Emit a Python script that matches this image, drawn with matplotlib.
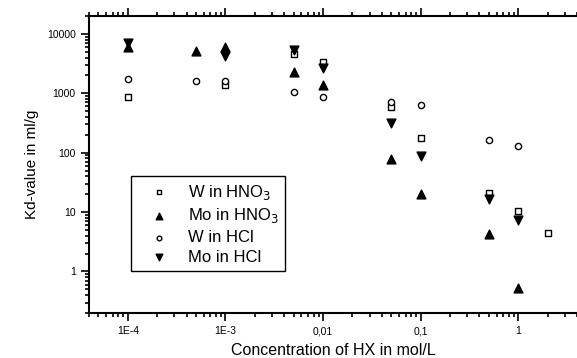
import matplotlib
matplotlib.use("Agg")
import matplotlib.pyplot as plt
from matplotlib.ticker import FixedLocator, LogLocator, NullFormatter

plt.rcParams['font.family'] = ['Liberation Sans', 'DejaVu Sans']

# Data
w_hno3_x = [1e-4, 1e-3, 5e-3, 0.01, 0.05, 0.1, 0.5, 1, 2]
w_hno3_y = [860, 1360, 4650, 3400, 590, 178, 21, 10.4, 4.4]

mo_hno3_x = [1e-4, 5e-4, 1e-3, 5e-3, 0.01, 0.05, 0.1, 0.5, 1]
mo_hno3_y = [5900, 5200, 6100, 2240, 1360, 79, 20.5, 4.3, 0.53]

w_hcl_x = [1e-4, 5e-4, 1e-3, 5e-3, 0.01, 0.05, 0.1, 0.5, 1]
w_hcl_y = [1710, 1580, 1580, 1040, 860, 710, 630, 165, 131]

mo_hcl_x = [1e-4, 1e-3, 5e-3, 0.01, 0.05, 0.1, 0.5, 1]
mo_hcl_y = [7100, 4300, 5400, 2700, 316, 89, 16.5, 7.4]

xtick_vals = [1e-4, 1e-3, 1e-2, 1e-1, 1]
xtick_labels = ["1E-4", "1E-3", "0,01", "0,1", "1"]
ytick_vals = [1, 10, 100, 1000, 10000]
ytick_labels = ["1", "10", "100", "1000", "10000"]

fig = plt.figure(figsize=(5.77, 3.58), dpi=100)
ax = fig.add_axes([89/577, 1-313/358, 488/577, 297/358])

ax.scatter(w_hno3_x, w_hno3_y, marker='s', s=18, facecolors='white', edgecolors='black', linewidths=1.0, label='W in HNO$_3$', zorder=3)
ax.scatter(mo_hno3_x, mo_hno3_y, marker='^', s=40, color='black', label='Mo in HNO$_3$', zorder=3)
ax.scatter(w_hcl_x, w_hcl_y, marker='o', s=20, facecolors='white', edgecolors='black', linewidths=1.0, label='W in HCl', zorder=3)
ax.scatter(mo_hcl_x, mo_hcl_y, marker='v', s=40, color='black', label='Mo in HCl', zorder=3)

ax.set_xscale('log')
ax.set_yscale('log')
ax.set_xlim(4e-5, 4)
ax.set_ylim(0.2, 20000)

ax.xaxis.set_major_locator(FixedLocator(xtick_vals))
ax.set_xticklabels(xtick_labels)
ax.xaxis.set_minor_locator(LogLocator(base=10, subs=range(2, 10)))
ax.xaxis.set_minor_formatter(NullFormatter())
ax.yaxis.set_major_locator(FixedLocator(ytick_vals))
ax.set_yticklabels(ytick_labels)
ax.yaxis.set_minor_locator(LogLocator(base=10, subs=range(2, 10)))
ax.yaxis.set_minor_formatter(NullFormatter())

ax.tick_params(which='both', direction='out', top=True, right=False, width=1.2, labelsize=7.5)
ax.tick_params(which='major', length=6)
ax.tick_params(which='minor', length=3)
for sp in ax.spines.values():
    sp.set_linewidth(1.5)
ax.spines['right'].set_visible(False)

ax.set_xlabel('Concentration of HX in mol/L', fontsize=11.5, labelpad=5)
ax.set_ylabel('Kd-value in ml/g', fontsize=11, labelpad=6)

leg = ax.legend(loc='lower left', bbox_to_anchor=(0.086, 0.14), fontsize=12,
                frameon=True, fancybox=False, edgecolor='black', framealpha=1,
                handlelength=2.55, handletextpad=0.46, borderpad=0.4,
                labelspacing=0.28, scatterpoints=1, markerscale=0.75,
                borderaxespad=0)
leg.get_frame().set_linewidth(1.0)

fig.savefig('out.png', dpi=100)
